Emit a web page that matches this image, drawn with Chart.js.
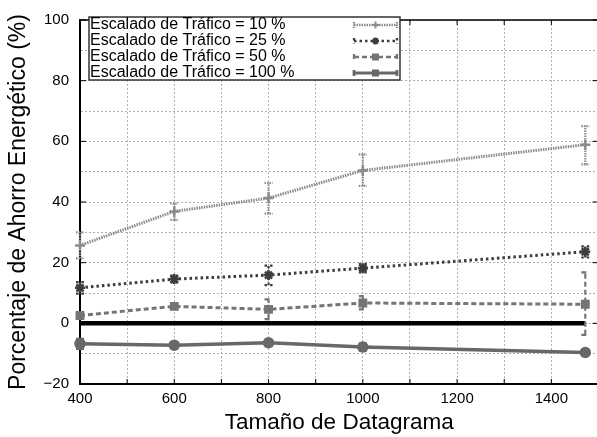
<!DOCTYPE html>
<html>
<head>
<meta charset="utf-8">
<script src="https://cdn.jsdelivr.net/npm/chart.js@4/dist/chart.umd.min.js"></script>
<style>
  html, body { margin:0; padding:0; background:#fff; overflow:hidden; }
  #wrap { width:606px; height:437px; }
</style>
</head>
<body>
<div id="wrap"><canvas id="ahorroChart"></canvas></div>
<script>
// Tamaño de datagrama (bytes)
const tamanos = [400, 600, 800, 1000, 1472];

// Ahorro medio y extremos del intervalo por escalado de tráfico
const ahorro10  = [25.7, 36.9, 41.3, 50.4, 58.9];
const bajo10    = [21.4, 34.1, 36.2, 45.3, 52.4];
const alto10    = [30.0, 39.5, 46.3, 55.7, 65.0];

const ahorro25  = [11.7, 14.6, 15.9, 18.2, 23.6];
const bajo25    = [9.8, 13.5, 12.6, 16.8, 21.7];
const alto25    = [13.6, 15.7, 19.0, 19.6, 25.4];

const ahorro50  = [2.6, 5.6, 4.6, 6.7, 6.3];
const bajo50    = [1.8, 4.9, 1.4, 4.6, -3.8];
const alto50    = [3.6, 6.3, 7.9, 9.0, 16.8];

const ahorro100 = [-6.7, -7.2, -6.4, -7.8, -9.6];
const bajo100   = [-8.4, -8.3, -7.5, -9.0, -10.6];
const alto100   = [-5.1, -6.2, -5.4, -6.6, -8.6];

const etiquetas = ['Escalado de Tráfico = 10 %','Escalado de Tráfico = 25 %','Escalado de Tráfico = 50 %','Escalado de Tráfico = 100 %'];
const FONT = "'Liberation Sans', Arial, sans-serif";

const series = [
  {label:etiquetas[0], y:ahorro10,  lo:bajo10,  hi:alto10,  color:'#8c8c8c', dash:[1.5,1], width:3,   point:'cross', r:5},
  {label:etiquetas[1], y:ahorro25,  lo:bajo25,  hi:alto25,  color:'#3c3c3c', dash:[2.5,3], width:3,   point:'star',  r:5},
  {label:etiquetas[2], y:ahorro50,  lo:bajo50,  hi:alto50,  color:'#757575', dash:[5,3],   width:3,   point:'rect',  r:4.5},
  {label:etiquetas[3], y:ahorro100, lo:bajo100, hi:alto100, color:'#686868', dash:[],      width:3.5, point:'circle',r:4.5},
];

const toXY = ys => tamanos.map((x,i)=>({x, y:ys[i]}));

const datasets = series.map(s => ({
  label:s.label, data:toXY(s.y),
  borderColor:s.color, backgroundColor:s.color, borderWidth:s.width, borderDash:s.dash,
  pointStyle:s.point, pointRadius:s.r, pointBorderWidth:2.5, pointBorderColor:s.color, pointBackgroundColor:s.color,
  tension:0, clip:false
}));
// línea de referencia en cero
datasets.push({label:'cero', data:[{x:tamanos[0],y:0},{x:tamanos[tamanos.length-1],y:0}],
  borderColor:'#000', borderWidth:4.5, pointRadius:0, clip:false});

// barras de error verticales con remates
const errorBars = {
  id:'errorBars',
  afterDatasetsDraw(chart){
    const {ctx, scales:{x, y}} = chart;
    series.forEach(s => {
      ctx.save();
      ctx.strokeStyle = s.color; ctx.lineWidth = 2.2; ctx.setLineDash(s.dash);
      tamanos.forEach((t,i) => {
        const px = x.getPixelForValue(t);
        const p1 = y.getPixelForValue(s.lo[i]), p2 = y.getPixelForValue(s.hi[i]);
        ctx.beginPath();
        ctx.moveTo(px, p1); ctx.lineTo(px, p2);
        ctx.moveTo(px-4, p1); ctx.lineTo(px+4, p1);
        ctx.moveTo(px-4, p2); ctx.lineTo(px+4, p2);
        ctx.stroke();
      });
      ctx.restore();
    });
  }
};

// marco superior, marcas interiores y leyenda en recuadro
const frameLegend = {
  id:'frameLegend',
  afterDraw(chart){
    const {ctx, chartArea:a, scales:{x, y}} = chart;
    ctx.save();
    ctx.strokeStyle = '#000'; ctx.lineWidth = 1.5;
    ctx.beginPath(); ctx.moveTo(a.left, a.top); ctx.lineTo(a.right, a.top); ctx.stroke();
    ctx.lineWidth = 1;
    ctx.beginPath();
    x.ticks.forEach(t => {
      const px = x.getPixelForValue(t.value);
      ctx.moveTo(px, a.bottom); ctx.lineTo(px, a.bottom-5);
      ctx.moveTo(px, a.top); ctx.lineTo(px, a.top+5);
    });
    y.ticks.forEach(t => {
      if (t.value % 20) return;
      const py = y.getPixelForValue(t.value);
      ctx.moveTo(a.left, py); ctx.lineTo(a.left+6, py);
      ctx.moveTo(a.right, py); ctx.lineTo(a.right-6, py);
    });
    ctx.stroke();

    // leyenda
    const bx = 89, by = 17, bw = 311, bh = 63, row = 16;
    ctx.fillStyle = '#fff'; ctx.fillRect(bx, by, bw, bh);
    ctx.strokeStyle = '#333'; ctx.lineWidth = 1.5; ctx.strokeRect(bx, by, bw, bh);
    ctx.font = `16px ${FONT}`; ctx.textBaseline = 'middle'; ctx.textAlign = 'left';
    series.forEach((s,i) => {
      const cy = by + 8 + i*row;
      ctx.fillStyle = '#000';
      ctx.fillText(s.label, bx+1, cy);
      const x0 = 354, x1 = 397, xm = (x0+x1)/2;
      ctx.strokeStyle = s.color; ctx.lineWidth = s.width - 0.7; ctx.setLineDash(s.dash);
      ctx.beginPath(); ctx.moveTo(x0, cy); ctx.lineTo(x1, cy);
      ctx.moveTo(x0, cy-3); ctx.lineTo(x0, cy+3);
      ctx.moveTo(x1, cy-3); ctx.lineTo(x1, cy+3);
      ctx.stroke(); ctx.setLineDash([]);
      ctx.lineWidth = 2;
      Chart.helpers.drawPoint(ctx, {pointStyle:s.point === 'circle' ? 'rect' : s.point, radius:3.5, borderWidth:2}, xm, cy);
      ctx.fillStyle = s.color; ctx.fill();
    });
    ctx.restore();
  }
};

new Chart(document.getElementById('ahorroChart'), {
  type:'line',
  data:{datasets},
  plugins:[errorBars, frameLegend],
  options:{
    responsive:true, maintainAspectRatio:false, animation:false,
    layout:{padding:{top:13, right:6, bottom:0, left:0}},
    plugins:{legend:{display:false}, tooltip:{enabled:false}},
    scales:{
      x:{type:'linear', min:400, max:1500,
        afterFit: s => { s.height = 53; },
        ticks:{stepSize:100, padding:6, color:'#000', font:{family:FONT, size:15},
          maxRotation:0, autoSkip:false,
          callback: v => (v % 200 === 0 && v < 1500) ? v : ''},
        grid:{color:'#b0b0b0', lineWidth:1, drawTicks:false},
        border:{color:'#000', width:2, dash:[2,2]},
        title:{display:true, text:'Tamaño de Datagrama', color:'#000', font:{family:FONT, size:22.5}, padding:{top:0, bottom:1}}
      },
      y:{min:-20, max:100,
        afterFit: s => { s.width = 80; },
        ticks:{stepSize:10, padding:11, color:'#000', font:{family:FONT, size:15},
          callback: v => v % 20 === 0 ? (v < 0 ? '\u2212' + Math.abs(v) : v) : ''},
        grid:{color:'#b0b0b0', lineWidth:1, drawTicks:false},
        border:{color:'#000', width:2, dash:[2,2]},
        title:{display:true, text:'Porcentaje de Ahorro Energético (%)', color:'#000', font:{family:FONT, size:23}, padding:{top:5, bottom:0}}
      }
    }
  }
});
</script>
</body>
</html>
